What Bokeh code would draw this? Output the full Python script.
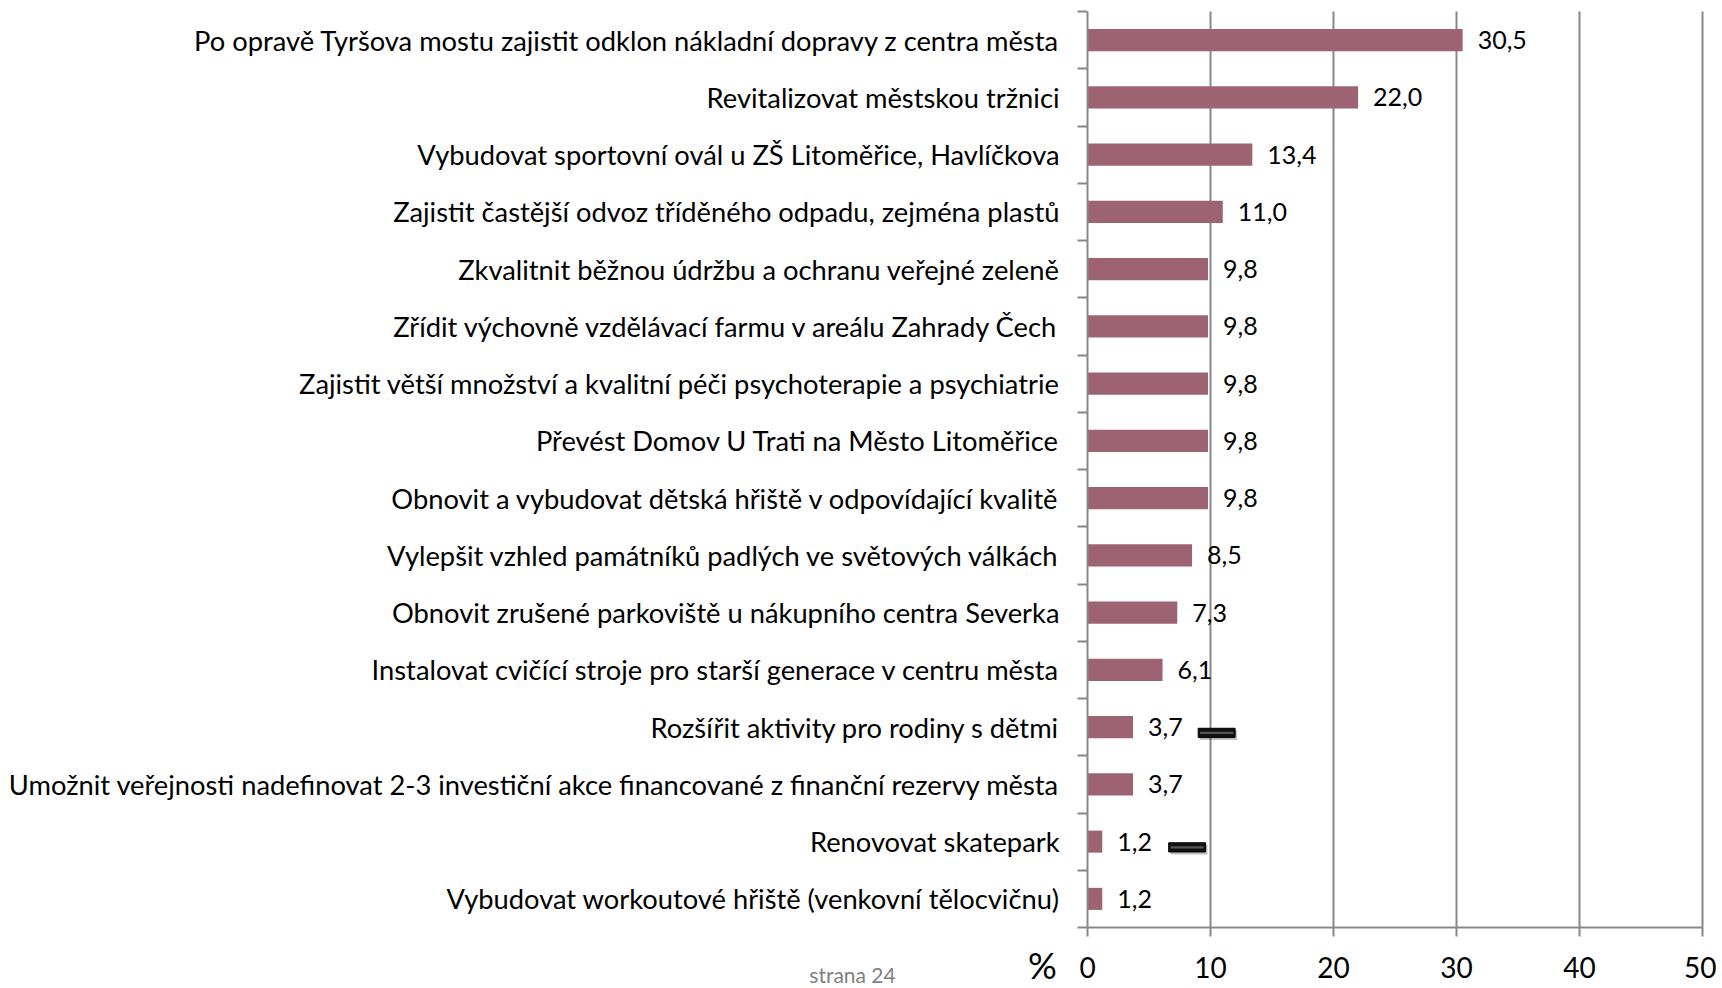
from bokeh.plotting import figure
from bokeh.models import Range1d, FixedTicker, Label, ColumnDataSource
from bokeh.core.properties import value
from bokeh.embed import file_html
from bokeh.resources import INLINE

categories = [
    "Po opravě Tyršova mostu zajistit odklon nákladní dopravy z centra města",
    "Revitalizovat městskou tržnici",
    "Vybudovat sportovní ovál u ZŠ Litoměřice, Havlíčkova",
    "Zajistit častější odvoz tříděného odpadu, zejména plastů",
    "Zkvalitnit běžnou údržbu a ochranu veřejné zeleně",
    "Zřídit výchovně vzdělávací farmu v areálu Zahrady Čech",
    "Zajistit větší množství a kvalitní péči psychoterapie a psychiatrie",
    "Převést Domov U Trati na Město Litoměřice",
    "Obnovit a vybudovat dětská hřiště v odpovídající kvalitě",
    "Vylepšit vzhled památníků padlých ve světových válkách",
    "Obnovit zrušené parkoviště u nákupního centra Severka",
    "Instalovat cvičící stroje pro starší generace v centru města",
    "Rozšířit aktivity pro rodiny s dětmi",
    "Umožnit veřejnosti nadefinovat 2-3 investiční akce financované z finanční rezervy města",
    "Renovovat skatepark",
    "Vybudovat workoutové hřiště (venkovní tělocvičnu)",
]
values = [30.5, 22.0, 13.4, 11.0, 9.8, 9.8, 9.8, 9.8, 9.8, 8.5, 7.3, 6.1, 3.7, 3.7, 1.2, 1.2]
x_ticks = [0, 10, 20, 30, 40, 50]
axis_unit = "%"
page_note = "strana 24"

FONT = "Lato"
BAR = "#9E6373"
GRID = "#888888"

W, H = 1716, 988
# plot area placement on the canvas (pixels)
PX_LEFT, PX_RIGHT, PX_TOP, PX_BOTTOM = 1087, 1702, 11, 927

n = len(categories)
xmax = x_ticks[-1]
ppx = (PX_RIGHT - PX_LEFT) / xmax
ppy = (PX_BOTTOM - PX_TOP) / n
x_range = Range1d(-PX_LEFT / ppx, (W - PX_LEFT) / ppx)
y_range = Range1d(-(H - PX_BOTTOM) / ppy, n + PX_TOP / ppy)

ypos = [n - i - 0.5 for i in range(n)]
labels = [f"{v:.1f}".replace(".", ",") for v in values]
src = ColumnDataSource(dict(y=ypos, v=values, lab=labels, cat=categories))

p = figure(width=W, height=H, output_backend="svg", toolbar_location=None,
           x_range=x_range, y_range=y_range, min_border=0)
p.outline_line_color = None
p.background_fill_color = "white"
p.xgrid.visible = False
p.ygrid.visible = False

# vertical grid lines at the x ticks, only over the plot area
gx = x_ticks[1:]
p.segment(x0=gx, x1=gx, y0=[0] * len(gx), y1=[n] * len(gx), line_color=GRID, line_width=2)

p.hbar(y="y", right="v", left=0, height=0.385, source=src, fill_color=BAR, line_color=None)
p.text(x="v", y="y", text="lab", source=src, x_offset=15, text_baseline="middle",
       text_font=value(FONT), text_font_size="25px", text_color="black")

# decorative dashes present in the original picture
for (x0, x1, row) in [(9.0, 12.0, 12), (6.6, 9.6, 14)]:
    yc = ypos[row] - 0.1
    p.rect(x=[(x0 + x1) / 2 + 0.15], y=[yc - 0.04], width=[x1 - x0], height=[0.17],
           fill_color="#000000", fill_alpha=0.25, line_color=None)
    p.rect(x=[(x0 + x1) / 2], y=[yc], width=[x1 - x0], height=[0.16],
           fill_color="#111111", line_color="#000000", line_width=1)
    p.rect(x=[(x0 + x1) / 2], y=[yc], width=[(x1 - x0) * 0.9], height=[0.04],
           fill_color="#555555", line_color=None)

# x axis, fixed at y = 0
xa = p.xaxis[0]
xa.fixed_location = 0
xa.bounds = (0, xmax)
xa.ticker = FixedTicker(ticks=x_ticks)
xa.axis_line_color = GRID
xa.axis_line_width = 2
xa.major_tick_line_color = GRID
xa.major_tick_line_width = 2
xa.major_tick_out = 9
xa.major_tick_in = 0
xa.minor_tick_line_color = None
xa.major_label_text_font = FONT
xa.major_label_text_font_size = "28px"
xa.major_label_text_color = "black"
xa.major_label_standoff = 20

# y axis, fixed at x = 0: labels at row centres, ticks at row boundaries
ya = p.yaxis[0]
ya.fixed_location = 0
ya.bounds = (0, n)
ya.ticker = FixedTicker(ticks=ypos, minor_ticks=list(range(n + 1)))
ya.major_label_overrides = {y: c for y, c in zip(ypos, categories)}
ya.axis_line_color = GRID
ya.axis_line_width = 2
ya.major_tick_line_color = None
ya.major_tick_out = 0
ya.major_tick_in = 0
ya.minor_tick_line_color = GRID
ya.minor_tick_line_width = 2
ya.minor_tick_out = 10
ya.minor_tick_in = 0
ya.major_label_text_font = FONT
ya.major_label_text_font_size = "27.3px"
ya.major_label_text_color = "black"
ya.major_label_standoff = 18

p.add_layout(Label(x=1042, y=964, x_units="canvas", y_units="canvas", text=axis_unit,
                   text_font=FONT, text_font_size="36px",
                   text_align="center", text_baseline="middle", text_color="black"))
p.add_layout(Label(x=852, y=974, x_units="canvas", y_units="canvas", text=page_note,
                   text_font=FONT, text_font_size="21px",
                   text_align="center", text_baseline="middle", text_color="#808080"))

open("out.html", "w").write(file_html(p, INLINE))
